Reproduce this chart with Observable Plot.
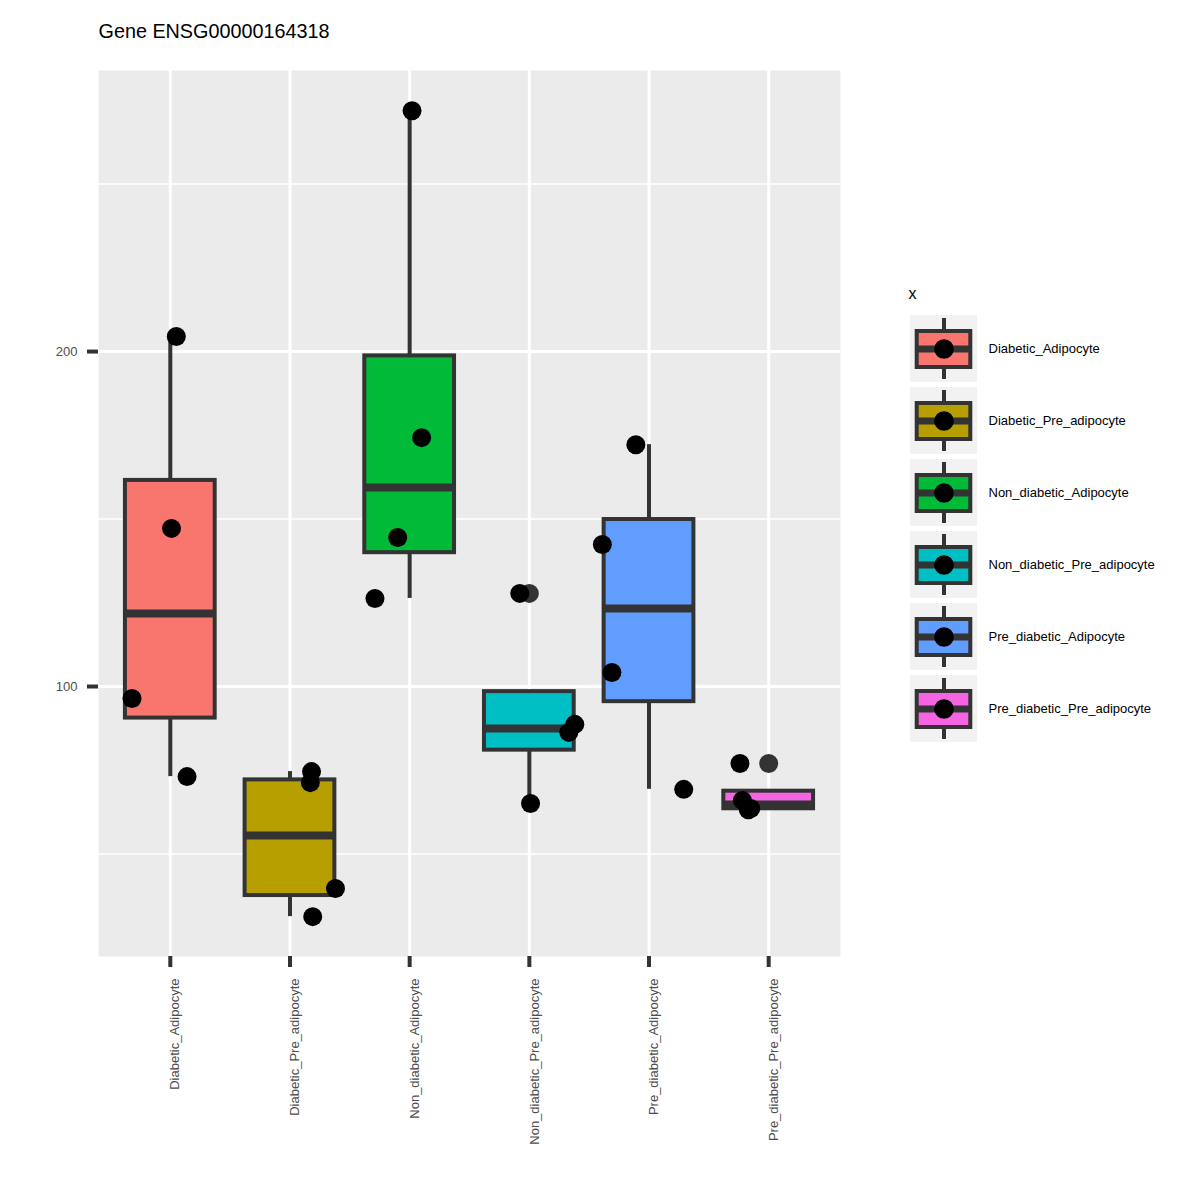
<!DOCTYPE html>
<html>
<head>
<meta charset="utf-8">
<script src="https://cdn.jsdelivr.net/npm/d3@7"></script>
<script src="https://cdn.jsdelivr.net/npm/@observablehq/plot@0.6"></script>
<style>
  html, body { margin: 0; padding: 0; background: #ffffff; }
  #wrap { position: relative; width: 1200px; height: 1200px; }
  #wrap svg { position: absolute; left: 0; top: 0; }
</style>
</head>
<body>
<div id="wrap"></div>
<script>
const title = "Gene ENSG00000164318";
const legendTitle = "x";
const categories = ["Diabetic_Adipocyte", "Diabetic_Pre_adipocyte", "Non_diabetic_Adipocyte", "Non_diabetic_Pre_adipocyte", "Pre_diabetic_Adipocyte", "Pre_diabetic_Pre_adipocyte"];
const colors = ["#F8766D", "#B79F00", "#00BA38", "#00BFC4", "#619CFF", "#F564E3"];
const values = [
  [204.5, 147.2, 96.4, 73.1],
  [74.6, 71.3, 39.7, 31.3],
  [271.9, 174.3, 144.5, 126.3],
  [127.8, 88.7, 86.3, 65.1],
  [172.2, 142.4, 104.2, 69.3],
  [77.0, 66.0, 63.6, 63.2]
];
const jitter = [
  [0.05, 0.01, -0.32, 0.14],
  [0.18, 0.17, 0.38, 0.19],
  [0.02, 0.10, -0.10, -0.29],
  [-0.08, 0.38, 0.33, 0.01],
  [-0.11, -0.39, -0.31, 0.29],
  [-0.24, -0.22, -0.15, -0.17]
];
const yTicks = [100, 200];
const yMinor = [50, 150, 250];
const yDomain = [19.4, 283.9];

const points = [];
values.forEach((vs, i) => vs.forEach((v, k) => points.push({cat: categories[i], i: i + 1, v, j: jitter[i][k]})));

const stats = categories.map((cat, idx) => {
  const s = values[idx].slice().sort(d3.ascending);
  const q1 = d3.quantile(s, 0.25), med = d3.quantile(s, 0.5), q3 = d3.quantile(s, 0.75);
  const iqr = q3 - q1;
  const inside = s.filter(v => v >= q1 - 1.5 * iqr && v <= q3 + 1.5 * iqr);
  const outliers = s.filter(v => v < q1 - 1.5 * iqr || v > q3 + 1.5 * iqr);
  return {cat, i: idx + 1, q1, med, q3, lo: d3.min(inside), hi: d3.max(inside), outliers};
});
const outlierPts = stats.flatMap(s => s.outliers.map(v => ({i: s.i, v})));

const font = "'Liberation Sans', Arial, sans-serif";
const dark = "#333333";
const hw = 0.375;

const main = Plot.plot({
  width: 1200, height: 1200,
  marginLeft: 98, marginRight: 360, marginTop: 70, marginBottom: 244,
  style: {fontFamily: font, background: "transparent", overflow: "visible"},
  x: {type: "linear", domain: [0.4, 6.6], axis: null},
  y: {domain: yDomain, axis: null},
  color: {domain: categories, range: colors},
  marks: [
    Plot.frame({fill: "#EBEBEB", stroke: null}),
    Plot.ruleY(yMinor, {stroke: "white", strokeWidth: 1.5}),
    Plot.ruleY(yTicks, {stroke: "white", strokeWidth: 3}),
    Plot.ruleX(d3.range(1, 7), {stroke: "white", strokeWidth: 3}),
    Plot.axisY({ticks: yTicks, tickSize: 11, tickPadding: 10, fontSize: 13, stroke: dark, strokeWidth: 4, fill: "#4D4D4D", label: null}),
    Plot.axisX({ticks: d3.range(1, 7), tickSize: 11, tickFormat: () => "", stroke: dark, strokeWidth: 4, label: null}),
    Plot.text(categories, {x: (d, i) => i + 1, text: d => d, frameAnchor: "bottom", rotate: -90, textAnchor: "end", lineAnchor: "middle", dy: 22, dx: 5, fontSize: 13, fill: "#4D4D4D"}),
    Plot.ruleX(stats, {x: "i", y1: "lo", y2: "q1", stroke: dark, strokeWidth: 4}),
    Plot.ruleX(stats, {x: "i", y1: "q3", y2: "hi", stroke: dark, strokeWidth: 4}),
    Plot.rect(stats, {x1: d => d.i - hw, x2: d => d.i + hw, y1: "q1", y2: "q3", fill: "cat", stroke: dark, strokeWidth: 4}),
    Plot.ruleY(stats, {x1: d => d.i - hw, x2: d => d.i + hw, y: "med", stroke: dark, strokeWidth: 8}),
    Plot.dot(outlierPts, {x: "i", y: "v", r: 9.5, fill: dark, stroke: null}),
    Plot.dot(points, {x: d => d.i + d.j, y: "v", r: 9.5, fill: "black", stroke: null}),
    Plot.text([title], {frameAnchor: "top-left", textAnchor: "start", lineAnchor: "bottom", dy: -33, fontSize: 19.8, fill: "black"})
  ]
});

const legend = Plot.plot({
  width: 1200, height: 1200,
  marginLeft: 910, marginRight: 223, marginTop: 315, marginBottom: 458,
  style: {fontFamily: font, background: "transparent", overflow: "visible"},
  x: {domain: [0, 1], axis: null},
  y: {type: "band", domain: categories, paddingInner: 5 / 72, paddingOuter: 0, axis: null},
  color: {domain: categories, range: colors},
  marks: [
    Plot.barX(categories, {x1: 0, x2: 1, y: d => d, fill: "#F2F2F2"}),
    Plot.tickX(categories, {x: 0.5, y: d => d, stroke: dark, strokeWidth: 4, insetTop: 3, insetBottom: 3}),
    Plot.barX(categories, {x1: 0.1, x2: 0.9, y: d => d, fill: d => d, stroke: dark, strokeWidth: 4, insetTop: 16, insetBottom: 15}),
    Plot.ruleY(categories, {y: d => d, x1: 0.1, x2: 0.9, stroke: dark, strokeWidth: 7}),
    Plot.dot(categories, {x: 0.5, y: d => d, r: 9.8, fill: "black", stroke: null}),
    Plot.text(categories, {x: 1.164, y: d => d, text: d => d, textAnchor: "start", fontSize: 13, fill: "black"}),
    Plot.text([legendTitle], {frameAnchor: "top-left", textAnchor: "start", lineAnchor: "bottom", dx: -2, dy: -17, fontSize: 16, fill: "black"})
  ]
});

document.getElementById("wrap").appendChild(main);
document.getElementById("wrap").appendChild(legend);
</script>
</body>
</html>
